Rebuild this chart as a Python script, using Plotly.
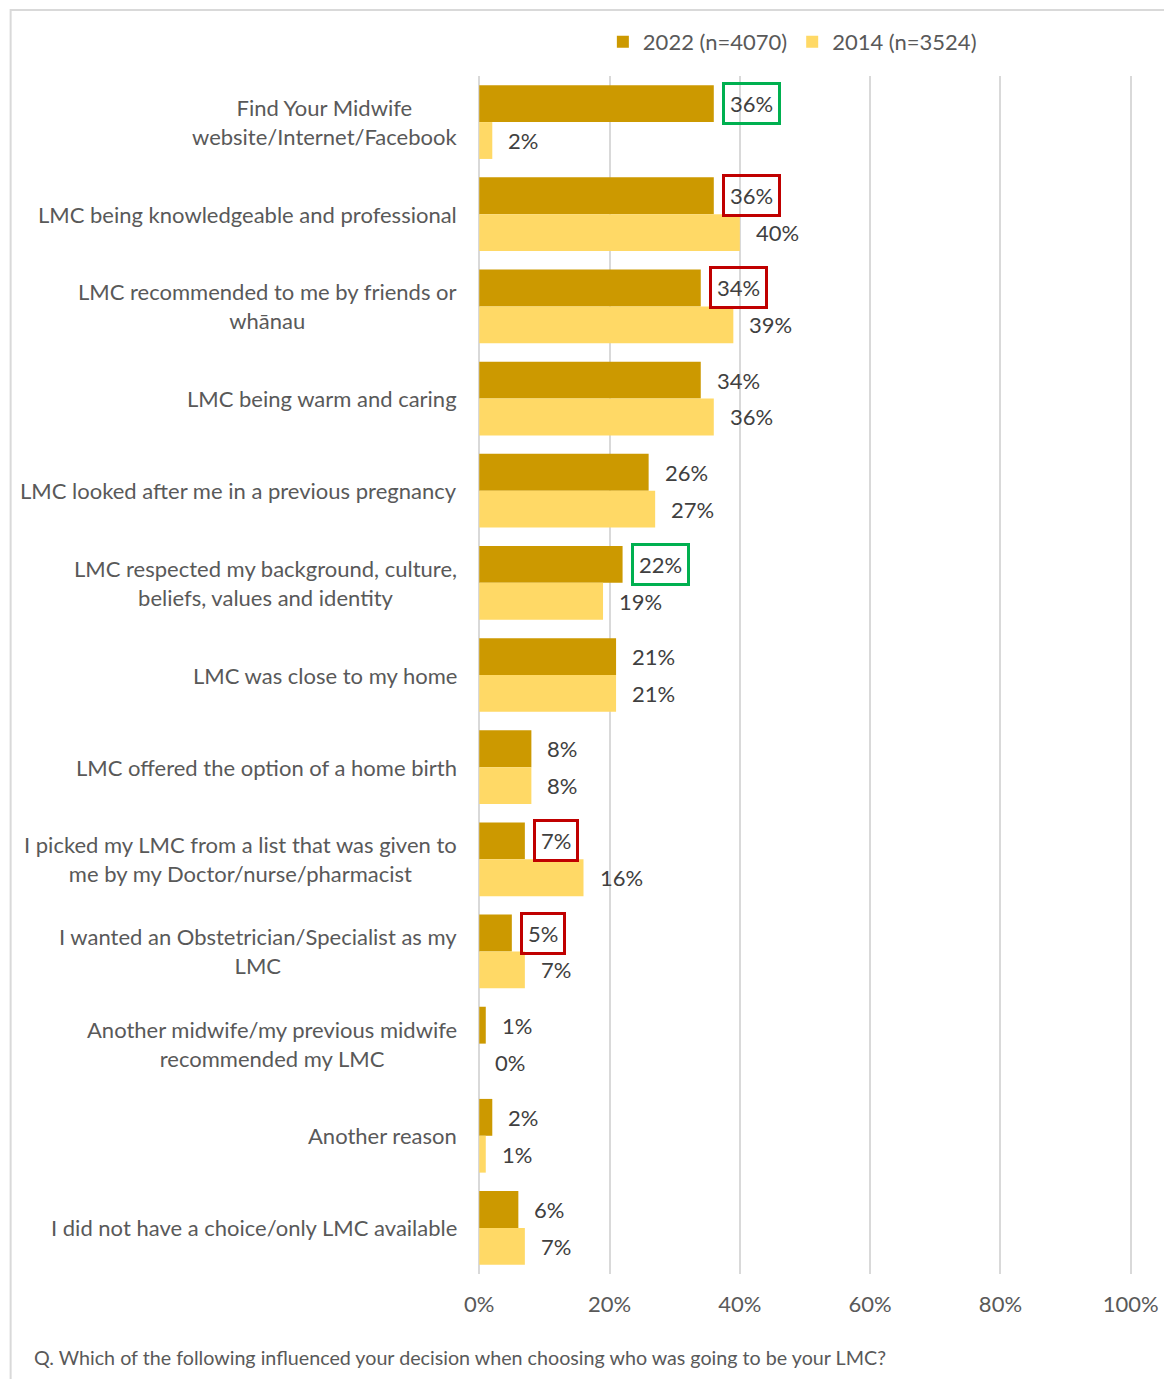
import plotly.graph_objects as go

# Survey reasons (top to bottom) and their display labels
categories = [
    "Find Your Midwife website/Internet/Facebook",
    "LMC being knowledgeable and professional",
    "LMC recommended to me by friends or whānau",
    "LMC being warm and caring",
    "LMC looked after me in a previous pregnancy",
    "LMC respected my background, culture, beliefs, values and identity",
    "LMC was close to my home",
    "LMC offered the option of a home birth",
    "I picked my LMC from a list that was given to me by my Doctor/nurse/pharmacist",
    "I wanted an Obstetrician/Specialist as my LMC",
    "Another midwife/my previous midwife recommended my LMC",
    "Another reason",
    "I did not have a choice/only LMC available",
]
category_labels = [
    "Find Your Midwife<br>website/Internet/Facebook",
    "LMC being knowledgeable and professional",
    "LMC recommended to me by friends or<br>whānau",
    "LMC being warm and caring",
    "LMC looked after me in a previous pregnancy",
    "LMC respected my background, culture,<br>beliefs, values and identity",
    "LMC was close to my home",
    "LMC offered the option of a home birth",
    "I picked my LMC from a list that was given to<br>me by my Doctor/nurse/pharmacist",
    "I wanted an Obstetrician/Specialist as my<br>LMC",
    "Another midwife/my previous midwife<br>recommended my LMC",
    "Another reason",
    "I did not have a choice/only LMC available",
]

# Percentages for each survey year
values_2022 = [36, 36, 34, 34, 26, 22, 21, 8, 7, 5, 1, 2, 6]
values_2014 = [2, 40, 39, 36, 27, 19, 21, 8, 16, 7, 0, 1, 7]

# Outline around the 2022 value: "up" = notable increase, "down" = notable decrease
highlight_2022 = ["up", "down", "down", None, None, "up", None, None, "down", "down", None, None, None]

series_names = ["2022 (n=4070)", "2014 (n=3524)"]
x_ticks = [0, 20, 40, 60, 80, 100]
x_tick_labels = ["0%", "20%", "40%", "60%", "80%", "100%"]
footnote = "Q. Which of the following influenced your decision when choosing who was going to be your LMC?"

COLOR_2022 = "#CC9900"
COLOR_2014 = "#FFD966"
HIGHLIGHT_COLORS = {"up": "#00B050", "down": "#C00000"}
FONT = "Lato"
LABEL_GRAY = "#595959"
VALUE_GRAY = "#404040"
GRID_GRAY = "#D9D9D9"

W, H = 1164, 1379
PAD = 0.5                        # padding so the 0% and 100% gridlines are drawn
X_MIN, X_MAX = -PAD, 100 + PAD
PX_PER_UNIT = 6.52
M_L = 479 - PAD * PX_PER_UNIT
M_R = (W - 1131) - PAD * PX_PER_UNIT
M_T, M_B = 76, 105
plot_w = W - M_L - M_R
plot_h = H - M_T - M_B
band_px = plot_h / len(categories)
bar_offset_px = band_px * 0.2


def px_to_paper_x(px):
    return (px - M_L) / plot_w


def px_to_paper_y(py):
    return (H - M_B - py) / plot_h


fig = go.Figure()
fig.add_trace(go.Bar(
    y=categories, x=values_2022, orientation="h", name=series_names[0],
    marker=dict(color=COLOR_2022, line=dict(width=0)),
))
fig.add_trace(go.Bar(
    y=categories, x=values_2014, orientation="h", name=series_names[1],
    marker=dict(color=COLOR_2014, line=dict(width=0)),
))

annotations = []
# Value labels next to each bar
for cat, v22, v14, hl in zip(categories, values_2022, values_2014, highlight_2022):
    for val, shift, mark in ((v22, bar_offset_px, hl), (v14, -bar_offset_px, None)):
        annotations.append(dict(
            x=val, y=cat, xref="x", yref="y",
            text=f"{val}%", showarrow=False,
            xanchor="left", yanchor="middle",
            xshift=8, yshift=shift,
            font=dict(family=FONT, size=22, color=VALUE_GRAY),
            bordercolor=HIGHLIGHT_COLORS[mark] if mark else "rgba(0,0,0,0)",
            borderwidth=3, borderpad=5,
        ))

# Category labels, centred line by line and right-aligned as a block
for cat, lab in zip(categories, category_labels):
    annotations.append(dict(
        x=px_to_paper_x(459), y=cat, xref="paper", yref="y",
        text=lab, showarrow=False, xanchor="right", yanchor="middle",
        align="center",
        font=dict(family=FONT, size=22, color=LABEL_GRAY),
    ))

annotations.append(dict(
    x=px_to_paper_x(31), y=px_to_paper_y(1357), xref="paper", yref="paper",
    text=footnote, showarrow=False, xanchor="left", yanchor="middle",
    font=dict(family=FONT, size=19.7, color=LABEL_GRAY),
))

# Light frame around the chart area
shapes = [dict(
    type="rect", xref="paper", yref="paper", layer="below",
    x0=px_to_paper_x(10), y0=px_to_paper_y(H + 20),
    x1=px_to_paper_x(W + 20), y1=px_to_paper_y(10),
    line=dict(color=GRID_GRAY, width=2), fillcolor="rgba(0,0,0,0)",
)]

fig.update_layout(
    width=W, height=H,
    margin=dict(l=M_L, r=M_R, t=M_T, b=M_B, pad=0, autoexpand=False),
    paper_bgcolor="white", plot_bgcolor="white",
    barmode="group", bargap=0.2, bargroupgap=0,
    font=dict(family=FONT, size=22, color=LABEL_GRAY),
    legend=dict(
        orientation="h", x=px_to_paper_x(982), xanchor="right",
        y=px_to_paper_y(42), yanchor="middle",
        font=dict(family=FONT, size=22, color=LABEL_GRAY),
        itemwidth=30, traceorder="normal",
    ),
    annotations=annotations,
    shapes=shapes,
)
fig.update_xaxes(
    range=[X_MIN, X_MAX], tickvals=x_ticks, ticktext=x_tick_labels,
    showgrid=True, gridcolor=GRID_GRAY, gridwidth=2,
    zeroline=False, showline=False, ticks="", ticklabelstandoff=15,
    tickfont=dict(family=FONT, size=22, color=LABEL_GRAY),
    automargin=False, fixedrange=True,
)
fig.update_yaxes(
    autorange="reversed", showticklabels=False, showgrid=False,
    zeroline=False, showline=False, ticks="", automargin=False,
    fixedrange=True,
)

fig.write_html("out.html")
